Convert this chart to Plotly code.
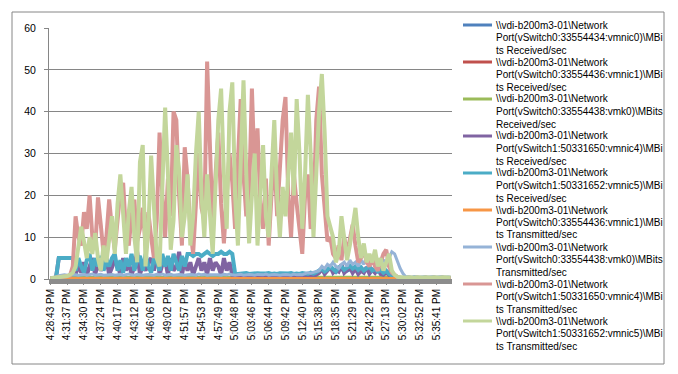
import plotly.graph_objects as go

# ---------------- data ----------------
tick_labels = ["4:28:43 PM", "4:31:37 PM", "4:34:30 PM", "4:37:24 PM", "4:40:17 PM",
               "4:43:12 PM", "4:46:06 PM", "4:49:02 PM", "4:51:57 PM", "4:54:53 PM",
               "4:57:49 PM", "5:00:48 PM", "5:03:46 PM", "5:06:44 PM", "5:09:42 PM",
               "5:12:40 PM", "5:15:38 PM", "5:18:35 PM", "5:21:29 PM", "5:24:22 PM",
               "5:27:13 PM", "5:30:02 PM", "5:32:52 PM", "5:35:41 PM"]
samples_per_label = 6

series_names = [
    r"\\vdi-b200m3-01\Network Port(vSwitch0:33554434:vmnic0)\MBits Received/sec",
    r"\\vdi-b200m3-01\Network Port(vSwitch0:33554436:vmnic1)\MBits Received/sec",
    r"\\vdi-b200m3-01\Network Port(vSwitch0:33554438:vmk0)\MBits Received/sec",
    r"\\vdi-b200m3-01\Network Port(vSwitch1:50331650:vmnic4)\MBits Received/sec",
    r"\\vdi-b200m3-01\Network Port(vSwitch1:50331652:vmnic5)\MBits Received/sec",
    r"\\vdi-b200m3-01\Network Port(vSwitch0:33554436:vmnic1)\MBits Transmitted/sec",
    r"\\vdi-b200m3-01\Network Port(vSwitch0:33554438:vmk0)\MBits Transmitted/sec",
    r"\\vdi-b200m3-01\Network Port(vSwitch1:50331650:vmnic4)\MBits Transmitted/sec",
    r"\\vdi-b200m3-01\Network Port(vSwitch1:50331652:vmnic5)\MBits Transmitted/sec",
]

vmnic0_rx = [
    0.2, 0.3, 0.3, 0.4, 0.3, 0.3, 0.4, 0.3, 0.3, 0.4, 0.3, 0.3,
    0.4, 0.3, 0.3, 0.4, 0.3, 0.3, 0.4, 0.3, 0.3, 0.4, 0.3, 0.3,
    0.4, 0.3, 0.3, 0.4, 0.3, 0.3, 0.4, 0.3, 0.3, 0.4, 0.3, 0.3,
    0.4, 0.3, 0.3, 0.4, 0.3, 0.3, 0.4, 0.3, 0.3, 0.4, 0.3, 0.3,
    0.4, 0.3, 0.3, 0.4, 0.3, 0.3, 0.4, 0.3, 0.3, 0.4, 0.3, 0.3,
    0.4, 0.3, 0.3, 0.4, 0.3, 0.3, 0.4, 0.3, 0.3, 0.4, 0.3, 0.3,
    0.4, 0.3, 0.3, 0.4, 0.3, 0.3, 0.4, 0.3, 0.3, 0.4, 0.3, 0.3,
    0.4, 0.3, 0.3, 0.4, 0.3, 0.3, 0.4, 0.3, 0.5, 0.6, 0.8, 1.2,
    1.8, 2.2, 1.5, 2.0, 2.5, 1.8, 1.5, 2.0, 2.4, 1.6, 2.0, 2.2,
    1.8, 2.5, 1.5, 2.0, 1.6, 2.2, 1.4, 2.0, 1.8, 2.4, 1.5, 2.6,
    2.0, 1.5, 1.0, 0.5, 0.3, 0.2, 0.2, 0.2, 0.2, 0.2, 0.2, 0.2,
    0.2, 0.2, 0.2, 0.2, 0.2, 0.2, 0.2, 0.2, 0.2, 0.2, 0.2, 0.2,
]
vmnic1_rx = [
    0.1, 0.1, 0.1, 0.1, 0.1, 0.1, 0.1, 0.1, 0.1, 0.1, 0.1, 0.1,
    0.1, 0.1, 0.1, 0.1, 0.1, 0.1, 0.1, 0.1, 0.1, 0.1, 0.1, 0.1,
    0.1, 0.1, 0.1, 0.1, 0.1, 0.1, 0.1, 0.1, 0.1, 0.1, 0.1, 0.1,
    0.1, 0.1, 0.1, 0.1, 0.1, 0.1, 0.1, 0.1, 0.1, 0.1, 0.1, 0.1,
    0.1, 0.1, 0.1, 0.1, 0.1, 0.1, 0.1, 0.1, 0.1, 0.1, 0.1, 0.1,
    0.1, 0.1, 0.1, 0.1, 0.1, 0.1, 0.1, 0.1, 0.1, 0.1, 0.1, 0.1,
    0.1, 0.1, 0.1, 0.1, 0.1, 0.1, 0.1, 0.1, 0.1, 0.1, 0.1, 0.1,
    0.1, 0.1, 0.1, 0.1, 0.1, 0.1, 0.1, 0.1, 0.1, 0.1, 0.1, 0.1,
    0.1, 0.1, 0.1, 0.1, 0.1, 0.1, 0.1, 0.1, 0.1, 0.1, 0.1, 0.1,
    0.1, 0.1, 0.1, 0.1, 0.1, 0.1, 0.1, 0.1, 0.1, 0.1, 0.1, 0.1,
    0.1, 0.1, 0.1, 0.1, 0.1, 0.1, 0.1, 0.1, 0.1, 0.1, 0.1, 0.1,
    0.1, 0.1, 0.1, 0.1, 0.1, 0.1, 0.1, 0.1, 0.1, 0.1, 0.1, 0.1,
]
vmk0_rx = [
    0.2, 0.3, 0.3, 0.3, 0.2, 0.3, 0.3, 0.3, 0.2, 0.3, 0.3, 0.3,
    0.2, 0.3, 0.3, 0.3, 0.2, 0.3, 0.3, 0.3, 0.2, 0.3, 0.3, 0.3,
    0.2, 0.3, 0.3, 0.3, 0.2, 0.3, 0.3, 0.3, 0.2, 0.3, 0.3, 0.3,
    0.2, 0.3, 0.3, 0.3, 0.2, 0.3, 0.3, 0.3, 0.2, 0.3, 0.3, 0.3,
    0.2, 0.3, 0.3, 0.3, 0.2, 0.3, 0.3, 0.3, 0.2, 0.3, 0.3, 0.3,
    0.2, 0.3, 0.3, 0.3, 0.2, 0.3, 0.3, 0.3, 0.2, 0.3, 0.3, 0.3,
    0.2, 0.3, 0.3, 0.3, 0.2, 0.3, 0.3, 0.3, 0.2, 0.3, 0.3, 0.3,
    0.2, 0.3, 0.3, 0.3, 0.2, 0.3, 0.3, 0.3, 0.3, 0.4, 0.4, 0.4,
    0.4, 0.4, 0.4, 0.4, 0.4, 0.4, 0.4, 0.4, 0.4, 0.4, 0.4, 0.4,
    0.4, 0.4, 0.4, 0.4, 0.4, 0.4, 0.4, 0.4, 0.4, 0.4, 0.4, 0.4,
    0.4, 0.4, 0.4, 0.4, 0.4, 0.4, 0.4, 0.4, 0.4, 0.4, 0.4, 0.4,
    0.4, 0.4, 0.4, 0.4, 0.4, 0.4, 0.4, 0.4, 0.4, 0.4, 0.4, 0.4,
]
vmnic4_rx = [
    0.1, 0.2, 0.3, 5, 5, 5, 5, 5, 5, 1, 3.5, 1.5,
    4, 1, 3, 5, 1, 4, 2, 3.5, 5, 1, 3, 4.5,
    3.5, 1, 5, 2, 4, 1, 3, 6.5, 1, 3.5, 2, 4,
    5, 2, 7, 1, 3.5, 4.5, 1, 5, 2, 3, 6.5, 1,
    4.5, 2, 4, 1, 3, 5, 2, 4, 1, 5, 2, 4,
    3, 1, 5, 2, 4, 1, 0.8, 0.6, 0.7, 0.6, 0.8, 0.6,
    0.7, 0.6, 0.8, 0.7, 0.6, 0.7, 0.8, 0.6, 0.7, 0.6, 0.8, 0.7,
    0.6, 0.7, 0.8, 0.6, 0.7, 0.6, 0.8, 0.7, 0.6, 0.8, 0.7, 1.0,
    1.5, 2.5, 1.2, 2.0, 3.0, 1.5, 2.2, 1.8, 3.5, 1.5, 2.0, 2.8,
    1.5, 2.5, 1.2, 2.0, 1.5, 2.8, 1.3, 2.2, 1.5, 2.5, 1.2, 1.0,
    1.5, 0.8, 0.4, 0.3, 0.2, 0.2, 0.1, 0.1, 0.1, 0.1, 0.1, 0.1,
    0.1, 0.1, 0.1, 0.1, 0.1, 0.1, 0.1, 0.1, 0.1, 0.1, 0.1, 0.1,
]
vmnic5_rx = [
    0.1, 0.2, 0.3, 5, 5, 5, 5, 5, 5, 2, 5, 3,
    1.5, 4.5, 6, 2, 5, 3, 5.5, 2, 4.5, 3, 5, 6,
    2, 4.5, 1.5, 5, 3, 6, 2, 4.5, 5.5, 2, 6, 3,
    1.5, 5, 4, 2, 6, 3, 5.5, 2, 6, 4, 2, 5.5,
    3, 6, 6, 5.5, 6, 6, 5.5, 6, 6.5, 6, 5.5, 6,
    6, 6.5, 6, 6, 6.5, 6, 1.3, 1.2, 1.3, 1.2, 1.4, 1.2,
    1.3, 1.2, 1.4, 1.3, 1.2, 1.3, 1.4, 1.2, 1.3, 1.2, 1.4, 1.3,
    1.2, 1.3, 1.4, 1.2, 1.3, 1.2, 1.4, 1.3, 1.2, 1.5, 1.3, 1.6,
    2.0, 2.5, 1.8, 2.2, 3.0, 2.5, 1.8, 2.8, 3.0, 2.2, 2.6, 3.2,
    2.5, 3.0, 2.2, 2.8, 2.0, 2.5, 3.0, 2.0, 2.4, 1.8, 2.2, 1.5,
    2.0, 1.2, 0.8, 0.4, 0.3, 0.2, 0.2, 0.2, 0.2, 0.2, 0.2, 0.2,
    0.2, 0.2, 0.2, 0.2, 0.2, 0.2, 0.2, 0.2, 0.2, 0.2, 0.2, 0.2,
]
vmnic1_tx = [
    0.1, 0.1, 0.1, 0.1, 0.1, 0.1, 0.1, 0.1, 0.1, 0.1, 0.1, 0.1,
    0.1, 0.1, 0.1, 0.1, 0.1, 0.1, 0.1, 0.1, 0.1, 0.1, 0.1, 0.1,
    0.1, 0.1, 0.1, 0.1, 0.1, 0.1, 0.1, 0.1, 0.1, 0.1, 0.1, 0.1,
    0.1, 0.1, 0.1, 0.1, 0.1, 0.1, 0.1, 0.1, 0.1, 0.1, 0.1, 0.1,
    0.1, 0.1, 0.1, 0.1, 0.1, 0.1, 0.1, 0.1, 0.1, 0.1, 0.1, 0.1,
    0.1, 0.1, 0.1, 0.1, 0.1, 0.1, 0.1, 0.1, 0.1, 0.1, 0.1, 0.1,
    0.1, 0.1, 0.1, 0.1, 0.1, 0.1, 0.1, 0.1, 0.1, 0.1, 0.1, 0.1,
    0.1, 0.1, 0.1, 0.1, 0.1, 0.1, 0.1, 0.1, 0.1, 0.1, 0.1, 0.1,
    0.1, 0.1, 0.1, 0.1, 0.1, 0.1, 0.1, 0.1, 0.1, 0.1, 0.1, 0.1,
    0.1, 0.1, 0.1, 0.1, 0.1, 0.1, 0.1, 0.1, 0.1, 0.1, 0.1, 0.1,
    0.1, 0.1, 0.1, 0.1, 0.1, 0.1, 0.1, 0.1, 0.1, 0.1, 0.1, 0.1,
    0.1, 0.1, 0.1, 0.1, 0.1, 0.1, 0.1, 0.1, 0.1, 0.1, 0.1, 0.1,
]
vmk0_tx = [
    0.3, 0.4, 0.5, 0.8, 0.9, 1.0, 0.9, 1.0, 1.0, 1.0, 0.9, 1.0,
    1.1, 0.9, 1.0, 1.2, 0.9, 1.0, 1.1, 0.9, 1.0, 1.0, 1.1, 0.9,
    1.0, 1.1, 0.9, 1.0, 1.2, 1.0, 0.9, 1.1, 1.0, 0.9, 1.0, 1.1,
    1.0, 0.9, 1.1, 1.0, 1.2, 0.9, 1.0, 1.1, 0.9, 1.0, 1.1, 1.0,
    0.9, 1.0, 1.1, 1.0, 0.9, 1.2, 1.0, 1.1, 0.9, 1.0, 1.0, 1.1,
    1.0, 0.9, 1.1, 1.0, 1.2, 1.0, 0.9, 1.0, 1.1, 0.9, 1.0, 1.1,
    1.0, 0.9, 1.1, 1.0, 1.0, 1.2, 0.9, 1.0, 1.1, 1.0, 0.9, 1.0,
    1.1, 1.0, 0.9, 1.2, 1.0, 1.1, 1.0, 1.3, 1.5, 1.4, 1.6, 1.8,
    2.0, 3.0, 2.5, 3.5, 3.0, 4.0, 3.0, 2.5, 3.5, 4.0, 3.0, 4.5,
    3.5, 4.0, 3.0, 4.5, 3.5, 5.5, 4.0, 5.0, 5.5, 4.0, 3.5, 4.5,
    4.0, 5.0, 6.5, 6.0, 4.0, 2.5, 1.3, 0.5, 0.6, 0.4, 0.6, 0.5,
    0.4, 0.5, 0.6, 0.4, 0.5, 0.6, 0.4, 0.5, 0.6, 0.4, 0.5, 0.4,
]
vmnic4_tx = [
    0.1, 0.2, 0.3, 0.3, 0.4, 0.5, 0.6, 0.8, 3, 15, 10, 8,
    16, 12, 20, 10, 7, 19.5, 13, 6, 10, 19, 12, 7,
    14, 21, 23, 11, 8, 15, 19, 9, 12, 17, 8, 16,
    10, 5, 14, 35, 20, 10, 24, 15, 40, 38, 20, 8,
    31.5, 24, 12, 6, 18, 30, 17, 14, 52, 30, 12, 25,
    35, 18, 8.5, 20, 30, 23, 12, 28, 43, 25, 15, 20,
    45.5, 25, 36, 18, 12, 24, 8, 20, 30, 15, 25, 38,
    43.5, 20, 10, 25, 18, 12, 6, 20, 25, 12, 15, 38,
    46, 25, 18, 9, 10, 6, 5, 8, 4.5, 10, 6, 10,
    13, 8, 4, 5, 7, 4, 3, 5, 3, 2, 4, 6,
    7, 3, 1.5, 1, 0.5, 0.3, 0.2, 0.2, 0.3, 0.2, 0.2, 0.3,
    0.2, 0.2, 0.3, 0.2, 0.2, 0.3, 0.2, 0.2, 0.3, 0.2, 0.2, 0.2,
]
vmnic5_tx = [
    0.2, 0.3, 0.3, 0.4, 0.5, 0.5, 0.7, 1.0, 1.5, 3, 8, 12.5,
    9, 5, 10, 6, 11, 5, 2, 8, 4, 9, 15, 6,
    18, 25, 14, 6, 16, 22, 10, 4, 28, 32, 3, 12,
    29.5, 18, 5, 3, 20, 41, 25, 7, 14, 32, 26, 10,
    15, 25, 8, 15, 30, 40, 20, 10, 25, 15, 6, 22,
    38, 45.5, 25, 12, 40, 47, 20, 8, 30, 47.5, 25, 8.5,
    20, 30, 8, 20, 32, 15, 10, 25, 38, 20, 10, 22,
    15, 25, 35, 20, 43, 30, 12, 25, 44, 30, 10, 25,
    40, 49, 35, 15, 12, 10, 4, 6, 15, 10, 4.5, 8,
    12, 17, 10, 5, 8.5, 4, 6, 4, 7, 3, 5, 2,
    4, 6, 2, 1, 0.5, 0.4, 0.3, 0.3, 0.4, 0.3, 0.3, 0.4,
    0.3, 0.3, 0.4, 0.3, 0.3, 0.4, 0.3, 0.3, 0.4, 0.3, 0.3, 0.3,
]

series_values = [vmnic0_rx, vmnic1_rx, vmk0_rx, vmnic4_rx, vmnic5_rx,
                 vmnic1_tx, vmk0_tx, vmnic4_tx, vmnic5_tx]
colors = ["#4F81BD", "#C0504D", "#9BBB59", "#8064A2", "#4BACC6",
          "#F79646", "#95B3D7", "#D99694", "#C3D69B"]
line_widths = [3, 3, 3, 4, 4, 3, 3, 4, 4]

n_points = len(tick_labels) * samples_per_label
for s in series_values:
    assert len(s) == n_points, len(s)

# ---------------- layout geometry ----------------
# The page body has an 8px margin, so the figure is shifted by OFF; all the
# pixel constants below are expressed in page (screenshot) coordinates.
OFF = 8
W_PAGE, H_PAGE = 678, 374
PL, PR, PT, PB = 49, 452, 28, 279          # plot area in page pixels
PW, PH = PR - PL, PB - PT


def px_x(x):
    return (x - PL) / PW


def px_y(y):
    return (PB - y) / PH


FONT = "Liberation Sans, Arial, sans-serif"
GRID = "#868686"

fig = go.Figure()
xs = list(range(n_points))
for name, vals, col, lw in zip(series_names, series_values, colors, line_widths):
    fig.add_trace(go.Scatter(x=xs, y=vals, mode="lines", name=name,
                             line=dict(color=col, width=lw),
                             showlegend=False))

# manual legend (Excel style: sample line beside first text line)
annotations = []
shapes = []
ENTRY_TOP, ENTRY_STEP, LINE_STEP = 25, 37, 12.5
for k, (name, col) in enumerate(zip(series_names, colors)):
    head, rest = name.split(" ", 1)
    lines = [head, rest[:34], rest[34:].strip()]
    y0 = ENTRY_TOP + ENTRY_STEP * k
    shapes.append(dict(type="line", xref="paper", yref="paper",
                       x0=px_x(463), x1=px_x(492), y0=px_y(y0), y1=px_y(y0),
                       line=dict(color=col, width=3)))
    for j, t in enumerate(lines):
        annotations.append(dict(text=t, xref="paper", yref="paper",
                                x=px_x(494), y=px_y(y0 + LINE_STEP * j),
                                xanchor="left", yanchor="middle", showarrow=False,
                                font=dict(family=FONT, size=10, color="#000000")))

# band under the category axis (dense tick marks)
shapes.append(dict(type="line", xref="paper", yref="paper",
                   x0=0, x1=1, y0=px_y(281.5), y1=px_y(281.5),
                   line=dict(color="#8C8C8C", width=5)))
# chart area border drawn as four lines
BX0, BX1, BY0, BY1 = 12, 664, 12, 364
for (xa, ya, xb, yb) in [(BX0, BY0, BX1, BY0), (BX0, BY1, BX1, BY1),
                         (BX0, BY0, BX0, BY1), (BX1, BY0, BX1, BY1)]:
    shapes.append(dict(type="line", xref="paper", yref="paper",
                       x0=px_x(xa), x1=px_x(xb), y0=px_y(ya), y1=px_y(yb),
                       line=dict(color=GRID, width=1)))

fig.update_layout(
    width=W_PAGE - OFF, height=H_PAGE - OFF, autosize=False,
    margin=dict(l=PL - OFF, r=W_PAGE - PR, t=PT - OFF, b=H_PAGE - PB, pad=0),
    paper_bgcolor="white", plot_bgcolor="white",
    font=dict(family=FONT, size=10, color="#000000"),
    annotations=annotations, shapes=shapes,
    xaxis=dict(range=[-0.5, n_points - 0.5],
               tickmode="array",
               tickvals=[i * samples_per_label for i in range(len(tick_labels))],
               ticktext=tick_labels, tickangle=-90,
               ticks="outside", ticklen=5, tickcolor="#8C8C8C",
               showgrid=False, zeroline=False, showline=True, linecolor=GRID,
               tickfont=dict(family=FONT, size=10, color="#000000")),
    yaxis=dict(range=[0, 60], dtick=10, tick0=0,
               showgrid=True, gridcolor=GRID, gridwidth=1,
               zeroline=False, showline=True, linecolor=GRID,
               ticks="outside", ticklen=4, tickcolor=GRID,
               ticklabelstandoff=6,
               tickfont=dict(family=FONT, size=10.5, color="#000000")),
)

fig.write_html("out.html")
